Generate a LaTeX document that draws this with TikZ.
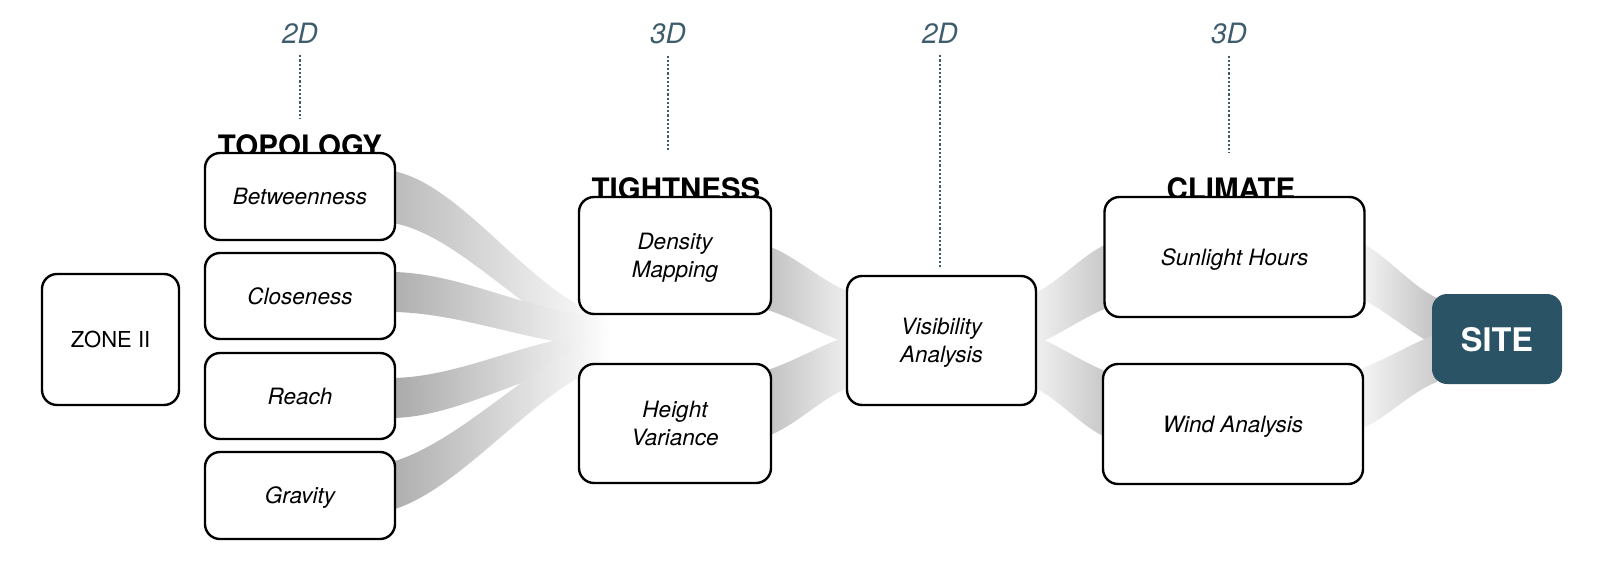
\documentclass[tikz,border=0pt]{standalone}
\usepackage{fontspec}
\setmainfont{TeX Gyre Heros}
\usetikzlibrary{calc}
\definecolor{dimc}{HTML}{3D5C6C}
\definecolor{sitec}{HTML}{2A5366}
\tikzset{
  stage/.style={draw=black, line width=2.4pt, rounded corners=15pt, fill=white,
    align=center, inner sep=0pt, text depth=0pt, font=\fontsize{22.5}{27.5}\selectfont\itshape},
  heading/.style={font=\fontsize{29.5}{30}\selectfont\bfseries, anchor=base, inner sep=0pt},
  dimlabel/.style={font=\fontsize{28}{30}\selectfont\itshape, text=dimc, anchor=base, inner sep=0pt},
  dimline/.style={draw=dimc, line width=2.3pt, dash pattern=on 2.2pt off 2pt},
}
% band: #1 start, #2 half width, #3 end, #4 half width, #5 left colour, #6 right colour, #7 tension
\newcommand\flowband[7]{%
  \shade[left color=#5, right color=#6]
   let \p1=(#1), \p2=(#3),
       \n1={\x1+(\x2-\x1)/3}, \n2={\x2-(\x2-\x1)/3},
       \n3={\y1+(1-#7)*(\y2-\y1)/3}, \n4={\y2-(1-#7)*(\y2-\y1)/3} in
   (\x1,\y1+#2) .. controls ({\n1*1pt},{\n3*1pt+#2}) and ({\n2*1pt},{\n4*1pt+#4}) .. (\x2,\y2+#4)
   -- (\x2,\y2-#4) .. controls ({\n2*1pt},{\n4*1pt-#4}) and ({\n1*1pt},{\n3*1pt-#2}) .. (\x1,\y1-#2) -- cycle;}
\begin{document}
\begin{tikzpicture}[x=1pt,y=-1pt]
\useasboundingbox (0,0) rectangle (1598,573);
\fill[white] (0,0) rectangle (1598,573);

\path (110.5,339.5) coordinate (zonec);

% ---- headings (drawn before the boxes, which overlap them) ----
\node[heading] (topo)  at (300,156) {TOPOLOGY};
\node[heading] (tight) at (676,199) {TIGHTNESS};
\node[heading] (clim)  at (1231,199) {CLIMATE};

% ---- dimension labels ----
\node[dimlabel] (l1) at (300,43) {2D};
\node[dimlabel] (l2) at (668,43) {3D};
\node[dimlabel] (l3) at (940,43) {2D};
\node[dimlabel] (l4) at (1229,43) {3D};
\coordinate (e1) at (300,119);
\coordinate (e2) at (668,152);
\coordinate (e3) at (940,268);
\coordinate (e4) at (1229,153);
\draw[dimline] ([yshift=-12pt]l1.south) -- (e1);
\draw[dimline] ([yshift=-12pt]l2.south) -- (e2);
\draw[dimline] ([yshift=-12pt]l3.south) -- (e3);
\draw[dimline] ([yshift=-12pt]l4.south) -- (e4);

% ---- box outlines as anchors for the bands ----
\path node[stage, draw=none, fill=none, minimum width=190pt, minimum height=87pt] (bet) at (300,196.5) {}
      node[stage, draw=none, fill=none, minimum width=190pt, minimum height=86pt] (clo) at (300,296) {}
      node[stage, draw=none, fill=none, minimum width=190pt, minimum height=86pt] (rea) at (300,396) {}
      node[stage, draw=none, fill=none, minimum width=190pt, minimum height=87pt] (gra) at (300,495.5) {}
      node[stage, draw=none, fill=none, minimum width=192pt, minimum height=117pt] (den) at (675,255.5) {}
      node[stage, draw=none, fill=none, minimum width=192pt, minimum height=119pt] (hei) at (675,423.5) {}
      node[stage, draw=none, fill=none, minimum width=189pt, minimum height=129pt] (vis) at (941.5,340.5) {}
      node[stage, draw=none, fill=none, minimum width=260pt, minimum height=120pt] (sun) at (1234.5,257) {}
      node[stage, draw=none, fill=none, minimum width=260pt, minimum height=120pt] (win) at (1233,424) {}
      node[stage, draw=none, fill=none, minimum width=130pt, minimum height=90pt] (site) at (1497,339) {};

% ---- gradient bands ----
\coordinate (tmu) at (612,332);
\coordinate (tml) at (612,348);
\flowband{[xshift=-6pt]bet.east}{26pt}{tmu}{15pt}{black!27}{white}{0.75}
\flowband{[xshift=-6pt,yshift=4pt]clo.east}{20pt}{tmu}{15pt}{black!32}{white}{1}
\flowband{[xshift=-6pt,yshift=-2pt]rea.east}{20pt}{tml}{15pt}{black!34}{white}{1}
\flowband{[xshift=-6pt,yshift=9pt]gra.east}{24pt}{tml}{15pt}{black!32}{white}{0.55}

\flowband{[xshift=-6pt,yshift=-22pt]den.east}{32pt}{[xshift=6pt,yshift=22pt]vis.west}{26pt}{black!24}{black!6}{0.35}
\flowband{[xshift=-6pt,yshift=20pt]hei.east}{33pt}{[xshift=6pt,yshift=-20pt]vis.west}{26pt}{black!24}{black!6}{0.35}

\flowband{[xshift=-6pt,yshift=20pt]vis.east}{26pt}{[xshift=6pt,yshift=-18pt]sun.west}{32pt}{black!5}{black!22}{0.35}
\flowband{[xshift=-6pt,yshift=-20pt]vis.east}{26pt}{[xshift=6pt,yshift=19pt]win.west}{33pt}{black!5}{black!22}{0.35}

\flowband{[xshift=-6pt,yshift=-13pt]sun.east}{28pt}{[xshift=6pt,yshift=17pt]site.west}{24pt}{black!4}{black!24}{0.3}
\flowband{[xshift=-6pt,yshift=24pt]win.east}{30pt}{[xshift=6pt,yshift=-19pt]site.west}{24pt}{black!4}{black!20}{0.3}

% ---- boxes drawn ----
\node[stage, minimum width=137pt, minimum height=131pt, font=\fontsize{22}{27}\selectfont] (zone) at (zonec) {ZONE II};
\node[stage, minimum width=190pt, minimum height=87pt] at (bet) {Betweenness};
\node[stage, minimum width=190pt, minimum height=86pt] at (clo) {Closeness};
\node[stage, minimum width=190pt, minimum height=86pt] at (rea) {Reach};
\node[stage, minimum width=190pt, minimum height=87pt] at (gra) {Gravity};
\node[stage, minimum width=192pt, minimum height=117pt] at (den) {Density\\Mapping};
\node[stage, minimum width=192pt, minimum height=119pt] at (hei) {Height\\Variance};
\node[stage, minimum width=189pt, minimum height=129pt] at (vis) {Visibility\\Analysis};
\node[stage, minimum width=260pt, minimum height=120pt] at (sun) {Sunlight Hours};
\node[stage, minimum width=260pt, minimum height=120pt] at (win) {Wind Analysis};
\node[stage, draw=none, fill=sitec, text=white, minimum width=130pt, minimum height=90pt,
      font=\fontsize{32.5}{34}\selectfont\bfseries] at (site) {SITE};
\end{tikzpicture}
\end{document}
